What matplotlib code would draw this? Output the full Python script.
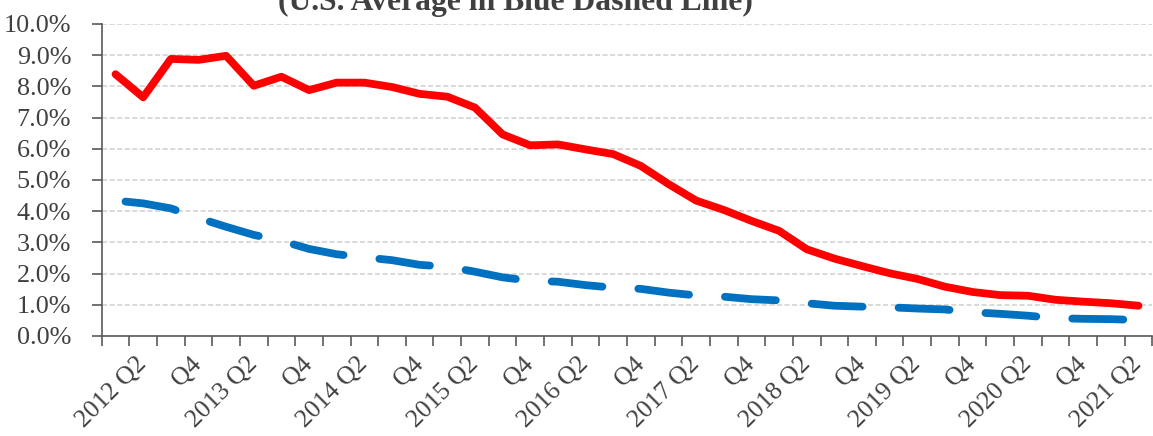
#!/usr/bin/env python3
# Quarterly rate vs. U.S. average (blue dashed), 2012 Q1 - 2021 Q2
import numpy as np
import matplotlib.pyplot as plt

plt.rcParams['font.family'] = ['Liberation Serif', 'DejaVu Serif']

tick_labels = ['', '2012 Q2', '', 'Q4', '', '2013 Q2', '', 'Q4',
               '', '2014 Q2', '', 'Q4', '', '2015 Q2', '', 'Q4',
               '', '2016 Q2', '', 'Q4', '', '2017 Q2', '', 'Q4',
               '', '2018 Q2', '', 'Q4', '', '2019 Q2', '', 'Q4',
               '', '2020 Q2', '', 'Q4', '', '2021 Q2']

state_rate = [8.39, 7.65, 8.88, 8.85, 8.98, 8.02, 8.31, 7.88, 8.12, 8.12,
              7.98, 7.76, 7.67, 7.32, 6.46, 6.11, 6.14, 5.98, 5.83, 5.45,
              4.87, 4.34, 4.04, 3.69, 3.37, 2.78, 2.48, 2.24, 2.01, 1.83,
              1.58, 1.41, 1.31, 1.29, 1.16, 1.10, 1.05, 0.97]

us_average = [4.34, 4.25, 4.09, 3.78, 3.50, 3.24, 3.05, 2.79, 2.62, 2.52,
              2.43, 2.28, 2.22, 2.06, 1.88, 1.77, 1.74, 1.63, 1.55, 1.51,
              1.39, 1.30, 1.26, 1.18, 1.14, 1.05, 0.97, 0.94, 0.92, 0.88,
              0.85, 0.76, 0.71, 0.65, 0.57, 0.55, 0.54, 0.51]

text_color = '#404040'
axis_color = '#595959'

fig = plt.figure(figsize=(11.53, 4.36), dpi=100)
ax = fig.add_axes([0.0882, 0.2294, 0.9112, 0.7156])

x_pos = np.arange(len(tick_labels))

ax.plot(x_pos, us_average, color='#0070C0', linewidth=5.6,
        linestyle=(9.9, (6.56, 4.63)), dash_capstyle='round',
        solid_capstyle='round', zorder=3)
ax.plot(x_pos, state_rate, color='#FF0000', linewidth=5.6,
        solid_joinstyle='round', solid_capstyle='round', zorder=4)

ax.set_xlim(-0.5, len(tick_labels) - 0.5)
ax.set_ylim(0, 10)

ax.set_yticks(np.arange(0, 11, 1))
ax.set_yticklabels(['%.1f%%' % v for v in range(11)])
ax.yaxis.grid(True, color='#D9D9D9', linestyle=(0, (2.6, 1.3)), linewidth=1.4)
ax.set_axisbelow(True)

ax.set_xticks(x_pos)
ax.set_xticklabels(tick_labels, rotation=45, ha='right', va='center',
                   rotation_mode='anchor')
ax.set_xticks(np.arange(-0.5, len(tick_labels)), minor=True)
ax.tick_params(axis='x', which='major', length=0, pad=18,
               labelsize=18.5, labelcolor=text_color)
ax.tick_params(axis='x', which='minor', length=7, width=1.2,
               color=axis_color, direction='out')
ax.tick_params(axis='y', length=7, width=1.2, color=axis_color,
               labelsize=18.8, labelcolor=text_color, pad=15)

for side in ['top', 'right']:
    ax.spines[side].set_visible(False)
for side in ['left', 'bottom']:
    ax.spines[side].set_color(axis_color)
    ax.spines[side].set_linewidth(1.2)

fig.text(0.447, 1 - 10 / 436, '(U.S. Average in Blue Dashed Line)',
         ha='center', va='baseline', fontsize=22.8, fontweight='bold',
         color=text_color)

fig.savefig('out.png', dpi=100)
